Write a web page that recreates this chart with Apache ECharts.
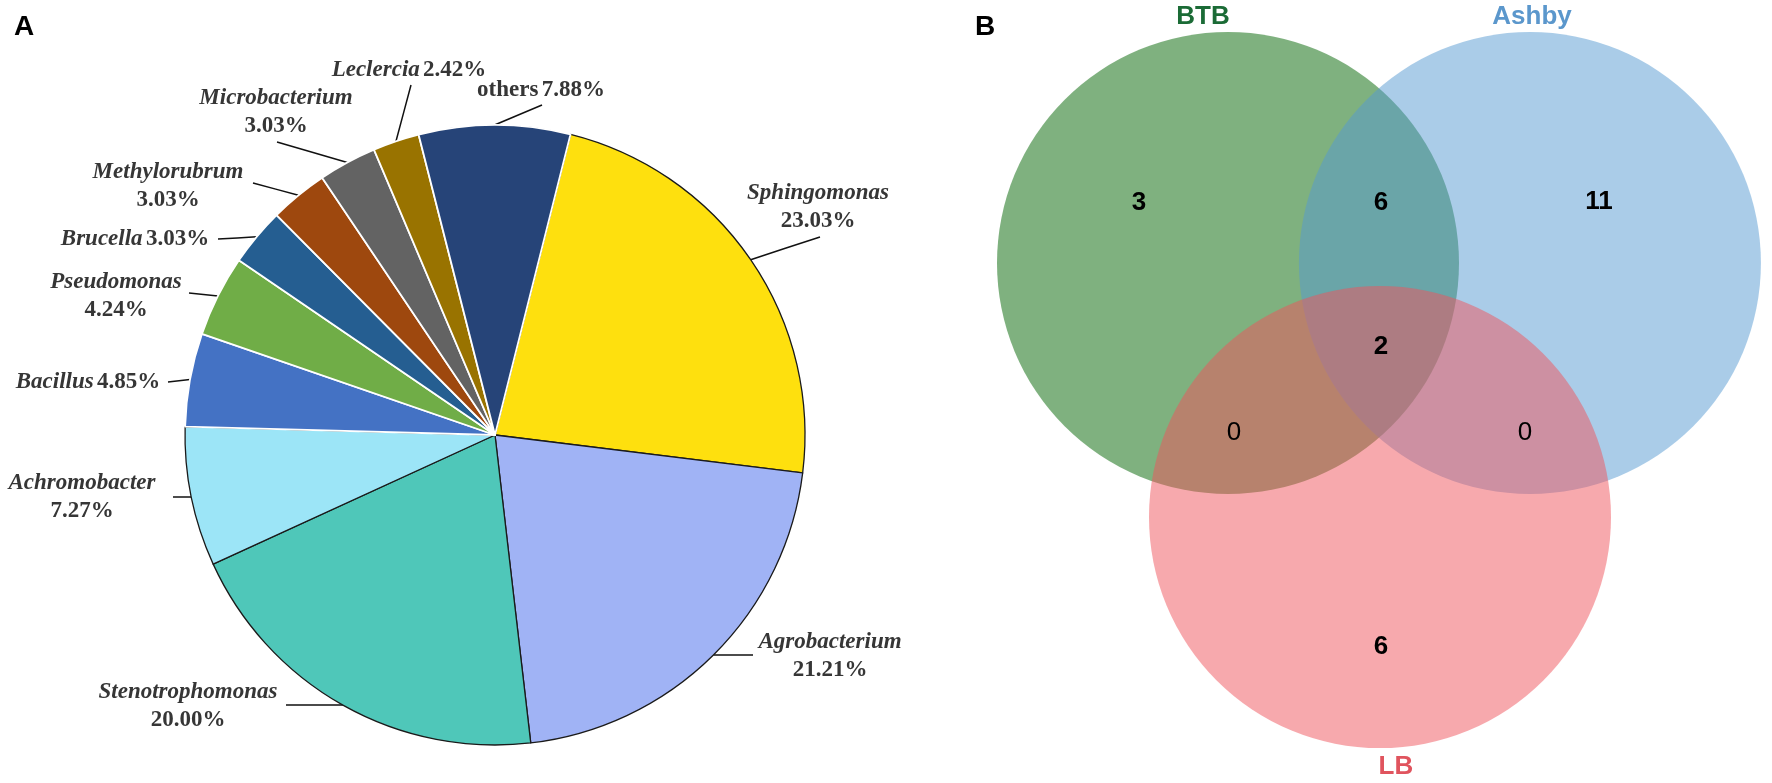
<!DOCTYPE html>
<html>
<head>
<meta charset="utf-8">
<script src="https://cdn.jsdelivr.net/npm/echarts@6/dist/echarts.min.js"></script>
<style>
  html, body { margin: 0; padding: 0; background: #fff; }
  #main { width: 1772px; height: 783px; }
</style>
</head>
<body>
<div id="main"></div>
<script>
// A: genus share of isolates (%)
const genera = ['Sphingomonas', 'Agrobacterium', 'Stenotrophomonas', 'Achromobacter', 'Bacillus',
  'Pseudomonas', 'Brucella', 'Methylorubrum', 'Microbacterium', 'Leclercia', 'others'];
const shares = [23.03, 21.21, 20.00, 7.27, 4.85, 4.24, 3.03, 3.03, 3.03, 2.42, 7.88];

// B: venn sets and region counts
const setNames = ['BTB', 'Ashby', 'LB'];
const regionNames = ['BTB only', 'BTB & Ashby', 'Ashby only', 'all three', 'BTB & LB', 'Ashby & LB', 'LB only'];
const regionCounts = [3, 6, 11, 2, 0, 0, 6];

// layout / style
const sliceColors = ['#FEE00E', '#A0B3F5', '#4FC7B9', '#9CE5F7', '#4472C4', '#70AD47',
  '#255E91', '#9E480E', '#636363', '#997300', '#264478'];
const darkEdge = [true, true, true, true, false, false, false, false, false, false, false];
const oneLine = [false, false, false, false, true, false, true, false, false, true, true];
const labelCenters = [[818, 207], [830, 656], [188, 706], [82, 497], [88, 382], [116, 296],
  [135, 239], [168, 186], [276, 112], [409, 70], [541, 90]];
const lineEnds = [[820, 237], [753, 655], [286, 705], [173, 497], [168, 382], [189, 293],
  [218, 239], [253, 183], [277, 142], [411, 85], [542, 105]];

const setCenters = [[0, 0], [1.307, 0], [0.658, -1.10]];
const setRadius = 1;
const setColors = ['#006400', '#5599D1', '#EF535B'];
const setLabelColors = ['#1B6B36', '#5B97CC', '#E0545E'];
const setLabelPos = [[-0.108, 1.065], [1.316, 1.065], [0.727, -2.18]];
const regionPos = [[-0.385, 0.26], [0.662, 0.26], [1.606, 0.264], [0.662, -0.364],
  [0.026, -0.736], [1.286, -0.736], [0.662, -1.662]];

const chart = echarts.init(document.getElementById('main'));

const serif = 'Liberation Serif, Times New Roman, serif';
const sans = 'Liberation Sans, Arial, sans-serif';

const option = {
  animation: false,
  backgroundColor: '#fff',
  title: [
    { text: 'A', left: 9, top: 8, textStyle: { fontFamily: sans, fontWeight: 'bold', fontSize: 28, color: '#000' } },
    { text: 'B', left: 970, top: 8, textStyle: { fontFamily: sans, fontWeight: 'bold', fontSize: 28, color: '#000' } }
  ],
  grid: { left: 997, top: 8.9, width: 762.3, height: 762.3 },
  xAxis: { type: 'value', min: -1, max: 2.3, show: false },
  yAxis: { type: 'value', min: -2.2, max: 1.1, show: false },
  series: [
    {
      type: 'pie',
      center: [495, 435],
      radius: 310,
      startAngle: 75.9,
      clockwise: true,
      avoidLabelOverlap: false,
      emphasis: { disabled: true },
      data: genera.map((g, i) => ({
        name: g,
        value: shares[i],
        itemStyle: {
          color: sliceColors[i],
          borderColor: darkEdge[i] ? '#1a1a1a' : '#ffffff',
          borderWidth: darkEdge[i] ? 1.3 : 1.8
        }
      })),
      label: {
        show: true,
        formatter: p => {
          const nm = p.name === 'others' ? '{u|' + p.name + '}' : '{i|' + p.name + '}';
          const sep = oneLine[p.dataIndex] ? ' ' : '\n';
          return nm + sep + '{b|' + p.value.toFixed(2) + '%}';
        },
        rich: {
          i: { fontFamily: serif, fontStyle: 'italic', fontWeight: 'bold', fontSize: 23, color: '#363636', lineHeight: 28 },
          u: { fontFamily: serif, fontWeight: 'bold', fontSize: 23, color: '#363636', lineHeight: 28 },
          b: { fontFamily: serif, fontWeight: 'bold', fontSize: 23, color: '#363636', lineHeight: 28 }
        }
      },
      labelLine: { show: true, length: 10, length2: 0, lineStyle: { color: '#111', width: 1.5 } },
      labelLayout: params => {
        const i = params.dataIndex;
        const start = params.labelLinePoints ? params.labelLinePoints[0] : lineEnds[i];
        const end = lineEnds[i];
        return {
          x: labelCenters[i][0],
          y: labelCenters[i][1],
          align: 'center',
          verticalAlign: 'middle',
          labelLinePoints: [start, [(start[0] + end[0]) / 2, (start[1] + end[1]) / 2], end]
        };
      }
    },
    {
      type: 'custom',
      coordinateSystem: 'cartesian2d',
      silent: true,
      data: setCenters.map((c, i) => [c[0], c[1], setRadius, i]),
      renderItem: (params, api) => {
        const c = api.coord([api.value(0), api.value(1)]);
        const r = api.size([api.value(2), 0])[0];
        return {
          type: 'circle',
          shape: { cx: c[0], cy: c[1], r: r },
          style: { fill: setColors[api.value(3)], opacity: 0.5 }
        };
      }
    },
    {
      type: 'scatter',
      symbolSize: 0,
      silent: true,
      itemStyle: { opacity: 1 },
      data: regionCounts.map((n, i) => ({
        name: regionNames[i],
        value: [regionPos[i][0], regionPos[i][1], n],
        label: { fontWeight: n === 0 ? 'normal' : 'bold' }
      })),
      label: {
        show: true,
        position: 'inside',
        formatter: p => String(p.value[2]),
        fontFamily: sans,
        fontSize: 26,
        color: '#000'
      }
    },
    {
      type: 'scatter',
      symbolSize: 0,
      silent: true,
      itemStyle: { opacity: 1 },
      data: setNames.map((s, i) => ({
        name: s,
        value: setLabelPos[i],
        label: { color: setLabelColors[i] }
      })),
      label: {
        show: true,
        position: 'inside',
        formatter: p => p.name,
        fontFamily: sans,
        fontWeight: 'bold',
        fontSize: 26
      }
    }
  ]
};

chart.setOption(option);
</script>
</body>
</html>
